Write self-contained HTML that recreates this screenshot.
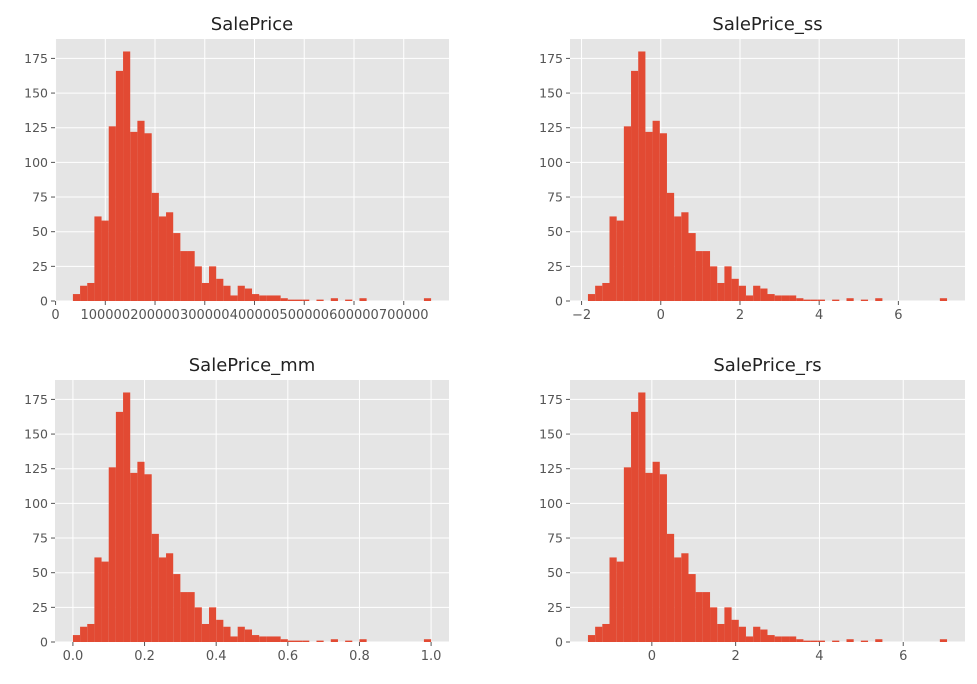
<!DOCTYPE html>
<html><head><meta charset="utf-8">
<style>
body{margin:0;background:#fff;}
svg text{font-family:"DejaVu Sans","Liberation Sans",sans-serif;}
</style></head>
<body>
<svg id="fig" width="977" height="679" xmlns="http://www.w3.org/2000/svg"></svg>
<script>
// Histogram counts (50 bins), shared by all four panels
const counts = [5,11,13,61,58,126,166,180,122,130,121,78,61,64,49,36,36,25,13,25,16,11,4,11,9,5,4,4,4,2,1,1,1,0,1,0,2,0,1,0,2,0,0,0,0,0,0,0,0,2];
const panelTitles = ["SalePrice","SalePrice_ss","SalePrice_mm","SalePrice_rs"];
const dataMins = [34900,-1.8387,0,-1.5245];
const dataMaxs = [755000,7.2289,1,7.0455];
const xTickValues = [[0,100000,200000,300000,400000,500000,600000,700000],[-2,0,2,4,6],[0,0.2,0.4,0.6,0.8,1.0],[0,2,4,6]];
const xTickLabels = [["0","100000","200000","300000","400000","500000","600000","700000"],["−2","0","2","4","6"],["0.0","0.2","0.4","0.6","0.8","1.0"],["0","2","4","6"]];
const yTickValues = [0,25,50,75,100,125,150,175];

const NS="http://www.w3.org/2000/svg";
const fig=document.getElementById('fig');
const boxes=[[55,39,394,262],[570,39,395,262],[55,380,394,262],[570,380,395,262]];
const yMax=189;
function mk(tag,attrs,parent){const e=document.createElementNS(NS,tag);for(const k in attrs)e.setAttribute(k,attrs[k]);parent.appendChild(e);return e;}
panelTitles.forEach((t,p)=>{
  const [L,T,W,H]=boxes[p];
  const g=mk('g',{},fig);
  
  
  const lo=dataMins[p],hi=dataMaxs[p],m=(hi-lo)*0.05;
  const x0=lo-m,x1=hi+m;
  const xs=v=>L+(v-x0)/(x1-x0)*W;
  const ys=v=>T+H-v/yMax*H;
  const bg=mk('rect',{x:L,y:T,width:W,height:H,fill:'#E5E5E5'},g);
  
  
  yTickValues.forEach(v=>{
    mk('line',{x1:L,x2:L+W,y1:ys(v),y2:ys(v),stroke:'#fff','stroke-width':1},g);
    mk('line',{x1:L-4,x2:L,y1:ys(v),y2:ys(v),stroke:'#555','stroke-width':1},g);
    const tx=mk('text',{x:L-7,y:ys(v)+4.5,'text-anchor':'end','font-size':12.5,fill:'#555'},g);
    tx.textContent=v;
    
    
  });
  xTickValues[p].forEach((v,i)=>{
    mk('line',{x1:xs(v),x2:xs(v),y1:T,y2:T+H,stroke:'#fff','stroke-width':1},g);
    mk('line',{x1:xs(v),x2:xs(v),y1:T+H,y2:T+H+4,stroke:'#555','stroke-width':1},g);
    const tx=mk('text',{x:xs(v),y:T+H+18,'text-anchor':'middle','font-size':13,fill:'#555'},g);
    tx.textContent=xTickLabels[p][i];
    
    
  });
  const bw=(hi-lo)/counts.length;
  counts.forEach((c,i)=>{
    if(c<=0)return;
    const a=xs(lo+i*bw),b=xs(lo+(i+1)*bw);
    const r=mk('rect',{x:a,y:ys(c),width:b-a,height:ys(0)-ys(c),fill:'#E24A33'},g);
    
    
  });
  const tt=mk('text',{x:L+W/2,y:T-9,'text-anchor':'middle','font-size':18,fill:'#222'},g);
  tt.textContent=t;
  
  
});
</script>
</body></html>
